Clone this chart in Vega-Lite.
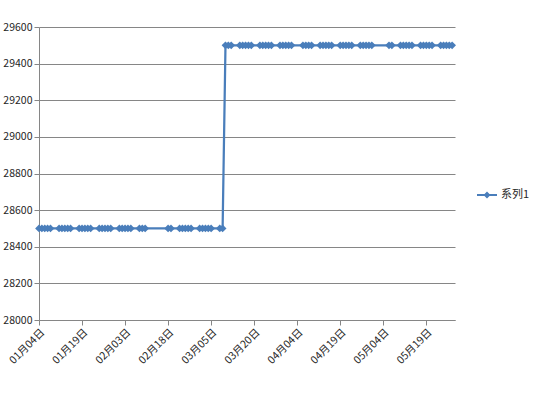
{
  "$schema": "https://vega.github.io/schema/vega-lite/v6.json",
  "autosize": "none",
  "width": 416,
  "height": 293,
  "padding": {"left": 39, "top": 27, "right": 89, "bottom": 73},
  "background": "white",
  "config": {
    "view": {"stroke": null},
    "font": "Noto Sans CJK SC",
    "axis": {"labelFont": "Noto Sans CJK SC", "labelColor": "#262626", "labelFontSize": 10.5}
  },
  "data": {
    "values": [
      {"date": "2021-01-04", "value": 28500, "series": "系列1"},
      {"date": "2021-01-05", "value": 28500, "series": "系列1"},
      {"date": "2021-01-06", "value": 28500, "series": "系列1"},
      {"date": "2021-01-07", "value": 28500, "series": "系列1"},
      {"date": "2021-01-08", "value": 28500, "series": "系列1"},
      {"date": "2021-01-11", "value": 28500, "series": "系列1"},
      {"date": "2021-01-12", "value": 28500, "series": "系列1"},
      {"date": "2021-01-13", "value": 28500, "series": "系列1"},
      {"date": "2021-01-14", "value": 28500, "series": "系列1"},
      {"date": "2021-01-15", "value": 28500, "series": "系列1"},
      {"date": "2021-01-18", "value": 28500, "series": "系列1"},
      {"date": "2021-01-19", "value": 28500, "series": "系列1"},
      {"date": "2021-01-20", "value": 28500, "series": "系列1"},
      {"date": "2021-01-21", "value": 28500, "series": "系列1"},
      {"date": "2021-01-22", "value": 28500, "series": "系列1"},
      {"date": "2021-01-25", "value": 28500, "series": "系列1"},
      {"date": "2021-01-26", "value": 28500, "series": "系列1"},
      {"date": "2021-01-27", "value": 28500, "series": "系列1"},
      {"date": "2021-01-28", "value": 28500, "series": "系列1"},
      {"date": "2021-01-29", "value": 28500, "series": "系列1"},
      {"date": "2021-02-01", "value": 28500, "series": "系列1"},
      {"date": "2021-02-02", "value": 28500, "series": "系列1"},
      {"date": "2021-02-03", "value": 28500, "series": "系列1"},
      {"date": "2021-02-04", "value": 28500, "series": "系列1"},
      {"date": "2021-02-05", "value": 28500, "series": "系列1"},
      {"date": "2021-02-08", "value": 28500, "series": "系列1"},
      {"date": "2021-02-09", "value": 28500, "series": "系列1"},
      {"date": "2021-02-10", "value": 28500, "series": "系列1"},
      {"date": "2021-02-18", "value": 28500, "series": "系列1"},
      {"date": "2021-02-19", "value": 28500, "series": "系列1"},
      {"date": "2021-02-22", "value": 28500, "series": "系列1"},
      {"date": "2021-02-23", "value": 28500, "series": "系列1"},
      {"date": "2021-02-24", "value": 28500, "series": "系列1"},
      {"date": "2021-02-25", "value": 28500, "series": "系列1"},
      {"date": "2021-02-26", "value": 28500, "series": "系列1"},
      {"date": "2021-03-01", "value": 28500, "series": "系列1"},
      {"date": "2021-03-02", "value": 28500, "series": "系列1"},
      {"date": "2021-03-03", "value": 28500, "series": "系列1"},
      {"date": "2021-03-04", "value": 28500, "series": "系列1"},
      {"date": "2021-03-05", "value": 28500, "series": "系列1"},
      {"date": "2021-03-08", "value": 28500, "series": "系列1"},
      {"date": "2021-03-09", "value": 28500, "series": "系列1"},
      {"date": "2021-03-10", "value": 29500, "series": "系列1"},
      {"date": "2021-03-11", "value": 29500, "series": "系列1"},
      {"date": "2021-03-12", "value": 29500, "series": "系列1"},
      {"date": "2021-03-15", "value": 29500, "series": "系列1"},
      {"date": "2021-03-16", "value": 29500, "series": "系列1"},
      {"date": "2021-03-17", "value": 29500, "series": "系列1"},
      {"date": "2021-03-18", "value": 29500, "series": "系列1"},
      {"date": "2021-03-19", "value": 29500, "series": "系列1"},
      {"date": "2021-03-22", "value": 29500, "series": "系列1"},
      {"date": "2021-03-23", "value": 29500, "series": "系列1"},
      {"date": "2021-03-24", "value": 29500, "series": "系列1"},
      {"date": "2021-03-25", "value": 29500, "series": "系列1"},
      {"date": "2021-03-26", "value": 29500, "series": "系列1"},
      {"date": "2021-03-29", "value": 29500, "series": "系列1"},
      {"date": "2021-03-30", "value": 29500, "series": "系列1"},
      {"date": "2021-03-31", "value": 29500, "series": "系列1"},
      {"date": "2021-04-01", "value": 29500, "series": "系列1"},
      {"date": "2021-04-02", "value": 29500, "series": "系列1"},
      {"date": "2021-04-06", "value": 29500, "series": "系列1"},
      {"date": "2021-04-07", "value": 29500, "series": "系列1"},
      {"date": "2021-04-08", "value": 29500, "series": "系列1"},
      {"date": "2021-04-09", "value": 29500, "series": "系列1"},
      {"date": "2021-04-12", "value": 29500, "series": "系列1"},
      {"date": "2021-04-13", "value": 29500, "series": "系列1"},
      {"date": "2021-04-14", "value": 29500, "series": "系列1"},
      {"date": "2021-04-15", "value": 29500, "series": "系列1"},
      {"date": "2021-04-16", "value": 29500, "series": "系列1"},
      {"date": "2021-04-19", "value": 29500, "series": "系列1"},
      {"date": "2021-04-20", "value": 29500, "series": "系列1"},
      {"date": "2021-04-21", "value": 29500, "series": "系列1"},
      {"date": "2021-04-22", "value": 29500, "series": "系列1"},
      {"date": "2021-04-23", "value": 29500, "series": "系列1"},
      {"date": "2021-04-26", "value": 29500, "series": "系列1"},
      {"date": "2021-04-27", "value": 29500, "series": "系列1"},
      {"date": "2021-04-28", "value": 29500, "series": "系列1"},
      {"date": "2021-04-29", "value": 29500, "series": "系列1"},
      {"date": "2021-04-30", "value": 29500, "series": "系列1"},
      {"date": "2021-05-06", "value": 29500, "series": "系列1"},
      {"date": "2021-05-07", "value": 29500, "series": "系列1"},
      {"date": "2021-05-10", "value": 29500, "series": "系列1"},
      {"date": "2021-05-11", "value": 29500, "series": "系列1"},
      {"date": "2021-05-12", "value": 29500, "series": "系列1"},
      {"date": "2021-05-13", "value": 29500, "series": "系列1"},
      {"date": "2021-05-14", "value": 29500, "series": "系列1"},
      {"date": "2021-05-17", "value": 29500, "series": "系列1"},
      {"date": "2021-05-18", "value": 29500, "series": "系列1"},
      {"date": "2021-05-19", "value": 29500, "series": "系列1"},
      {"date": "2021-05-20", "value": 29500, "series": "系列1"},
      {"date": "2021-05-21", "value": 29500, "series": "系列1"},
      {"date": "2021-05-24", "value": 29500, "series": "系列1"},
      {"date": "2021-05-25", "value": 29500, "series": "系列1"},
      {"date": "2021-05-26", "value": 29500, "series": "系列1"},
      {"date": "2021-05-27", "value": 29500, "series": "系列1"},
      {"date": "2021-05-28", "value": 29500, "series": "系列1"}
    ]
  },
  "mark": {
    "type": "line",
    "strokeWidth": 2.25,
    "point": {"shape": "diamond", "size": 60, "filled": true}
  },
  "encoding": {
    "x": {
      "field": "date",
      "type": "temporal",
      "scale": {
        "type": "utc",
        "domain": [
          {"year": 2021, "month": 1, "date": 4, "utc": true},
          {"year": 2021, "month": 5, "date": 29, "utc": true}
        ]
      },
      "axis": {
        "title": null,
        "grid": false,
        "labelExpr": "utcFormat(datum.value, '%m月%d日')",
        "values": [
          {"year": 2021, "month": 1, "date": 4, "utc": true},
          {"year": 2021, "month": 1, "date": 19, "utc": true},
          {"year": 2021, "month": 2, "date": 3, "utc": true},
          {"year": 2021, "month": 2, "date": 18, "utc": true},
          {"year": 2021, "month": 3, "date": 5, "utc": true},
          {"year": 2021, "month": 3, "date": 20, "utc": true},
          {"year": 2021, "month": 4, "date": 4, "utc": true},
          {"year": 2021, "month": 4, "date": 19, "utc": true},
          {"year": 2021, "month": 5, "date": 4, "utc": true},
          {"year": 2021, "month": 5, "date": 19, "utc": true}
        ],
        "labelAngle": -45,
        "labelAlign": "right",
        "labelBaseline": "top",
        "labelPadding": 2,
        "tickSize": 5,
        "tickColor": "#868686",
        "domainColor": "#868686",
        "labelOverlap": false,
        "labelFlush": false
      }
    },
    "y": {
      "field": "value",
      "type": "quantitative",
      "scale": {"domain": [28000, 29600], "nice": false, "zero": false},
      "axis": {
        "title": null,
        "values": [28000, 28200, 28400, 28600, 28800, 29000, 29200, 29400, 29600],
        "format": "d",
        "grid": true,
        "gridColor": "#868686",
        "gridWidth": 1,
        "tickSize": 5,
        "tickColor": "#868686",
        "domainColor": "#868686",
        "labelPadding": 2
      }
    },
    "color": {
      "field": "series",
      "type": "nominal",
      "scale": {"range": ["#4a7ebb"]},
      "legend": {
        "title": null,
        "orient": "none",
        "legendX": 438,
        "legendY": 158,
        "symbolType": "M-1,-0.1H1V0.1H-1Z M0,-0.35L0.35,0L0,0.35L-0.35,0Z",
        "symbolSize": 400,
        "symbolFillColor": "#4a7ebb",
        "symbolStrokeWidth": 0,
        "labelFontSize": 11,
        "labelColor": "#262626",
        "labelOffset": 4
      }
    }
  }
}
